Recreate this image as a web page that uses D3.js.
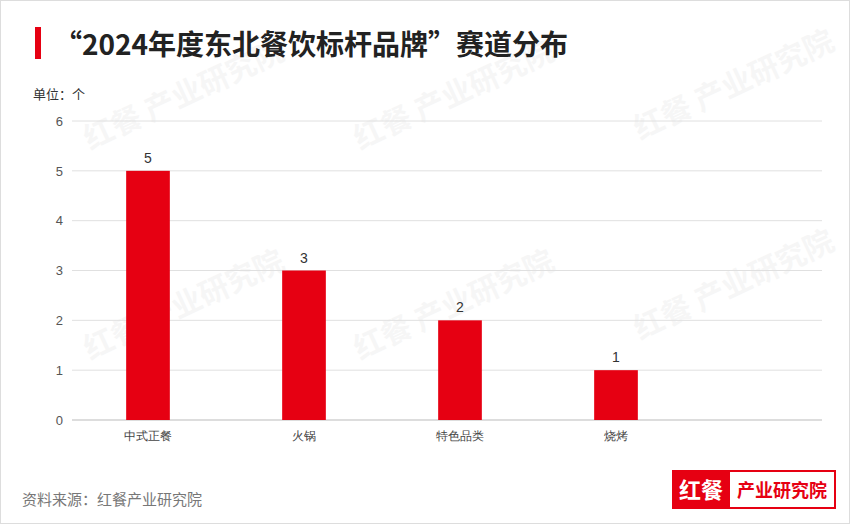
<!DOCTYPE html>
<html><head><meta charset="utf-8">
<script src="https://cdn.jsdelivr.net/npm/d3@7"></script>
<style>body{margin:0;background:#fff}svg{display:block;font-family:"Noto Sans CJK SC","Noto Sans",sans-serif}</style>
</head><body><div id="chart"></div>
<script>
const categories = ["中式正餐", "火锅", "特色品类", "烧烤"];
const values = [5, 3, 2, 1];
const yTicks = [0, 1, 2, 3, 4, 5, 6];

const width = 850, height = 524;
const svg = d3.select("#chart").append("svg").attr("width", width).attr("height", height);

svg.append("rect").attr("x", 0.5).attr("y", 0.5).attr("width", width - 1).attr("height", height - 1)
    .attr("fill", "#fff").attr("stroke", "#ddd");

// watermarks
const wm = [[90, 150], [360, 150], [640, 140], [90, 360], [360, 360], [640, 340]];
wm.forEach(([x, y]) => {
    svg.append("text").attr("transform", `translate(${x},${y}) rotate(-25)`)
        .attr("font-size", 30).attr("font-weight", "bold").attr("fill", "#000").attr("opacity", 0.03)
        .text("红餐 产业研究院");
});

// title
svg.append("rect").attr("x", 35).attr("y", 27).attr("width", 6).attr("height", 32).attr("fill", "#e60012");
svg.append("text").attr("x", 54).attr("y", 55).attr("font-size", 28).attr("font-weight", "bold")
    .attr("fill", "#222").text("“2024年度东北餐饮标杆品牌”赛道分布");
svg.append("text").attr("x", 33).attr("y", 99).attr("font-size", 13).attr("fill", "#333").text("单位：个");

const x = d3.scaleBand().domain(categories).range([70, 694]).paddingInner(0.72).paddingOuter(0.36);
const y = d3.scaleLinear().domain([0, 6]).range([420, 121]);

// gridlines
svg.append("g").selectAll("line").data(yTicks).enter().append("line")
    .attr("x1", 72).attr("x2", 822).attr("y1", d => y(d)).attr("y2", d => y(d))
    .attr("stroke", d => d === 0 ? "#bbb" : "#e0e0e0");

const yAxis = svg.append("g").attr("transform", "translate(66,0)")
    .call(d3.axisLeft(y).tickValues(yTicks).tickSize(0).tickFormat(d3.format("d")));
yAxis.select(".domain").remove();
yAxis.selectAll("text").attr("font-size", 13).attr("fill", "#555").attr("font-family", "Liberation Sans, sans-serif");

svg.append("g").selectAll("rect").data(values).enter().append("rect")
    .attr("x", (d, i) => x(categories[i])).attr("width", x.bandwidth())
    .attr("y", d => y(d)).attr("height", d => y(0) - y(d)).attr("fill", "#e60012");

svg.append("g").selectAll("text").data(values).enter().append("text")
    .attr("x", (d, i) => x(categories[i]) + x.bandwidth() / 2).attr("y", d => y(d) - 8)
    .attr("text-anchor", "middle").attr("font-size", 14).attr("fill", "#333")
    .attr("font-family", "Liberation Sans, sans-serif").text(d => d);

const xAxis = svg.append("g").attr("transform", "translate(0,420)")
    .call(d3.axisBottom(x).tickSize(0).tickPadding(11));
xAxis.select(".domain").remove();
xAxis.selectAll("text").attr("font-size", 12).attr("fill", "#444");

// footer
svg.append("text").attr("x", 22).attr("y", 505).attr("font-size", 15).attr("fill", "#777").text("资料来源：红餐产业研究院");
svg.append("rect").attr("x", 729).attr("y", 471).attr("width", 106).attr("height", 37).attr("fill", "#fff").attr("stroke", "#e60012").attr("stroke-width", 2);
svg.append("rect").attr("x", 672).attr("y", 470).attr("width", 58).attr("height", 39).attr("fill", "#e60012");
svg.append("text").attr("x", 701).attr("y", 498).attr("text-anchor", "middle").attr("font-size", 22).attr("font-weight", "bold").attr("fill", "#fff").text("红餐");
svg.append("text").attr("x", 782).attr("y", 497).attr("text-anchor", "middle").attr("font-size", 18).attr("font-weight", "bold").attr("fill", "#e60012").text("产业研究院");
</script></body></html>
